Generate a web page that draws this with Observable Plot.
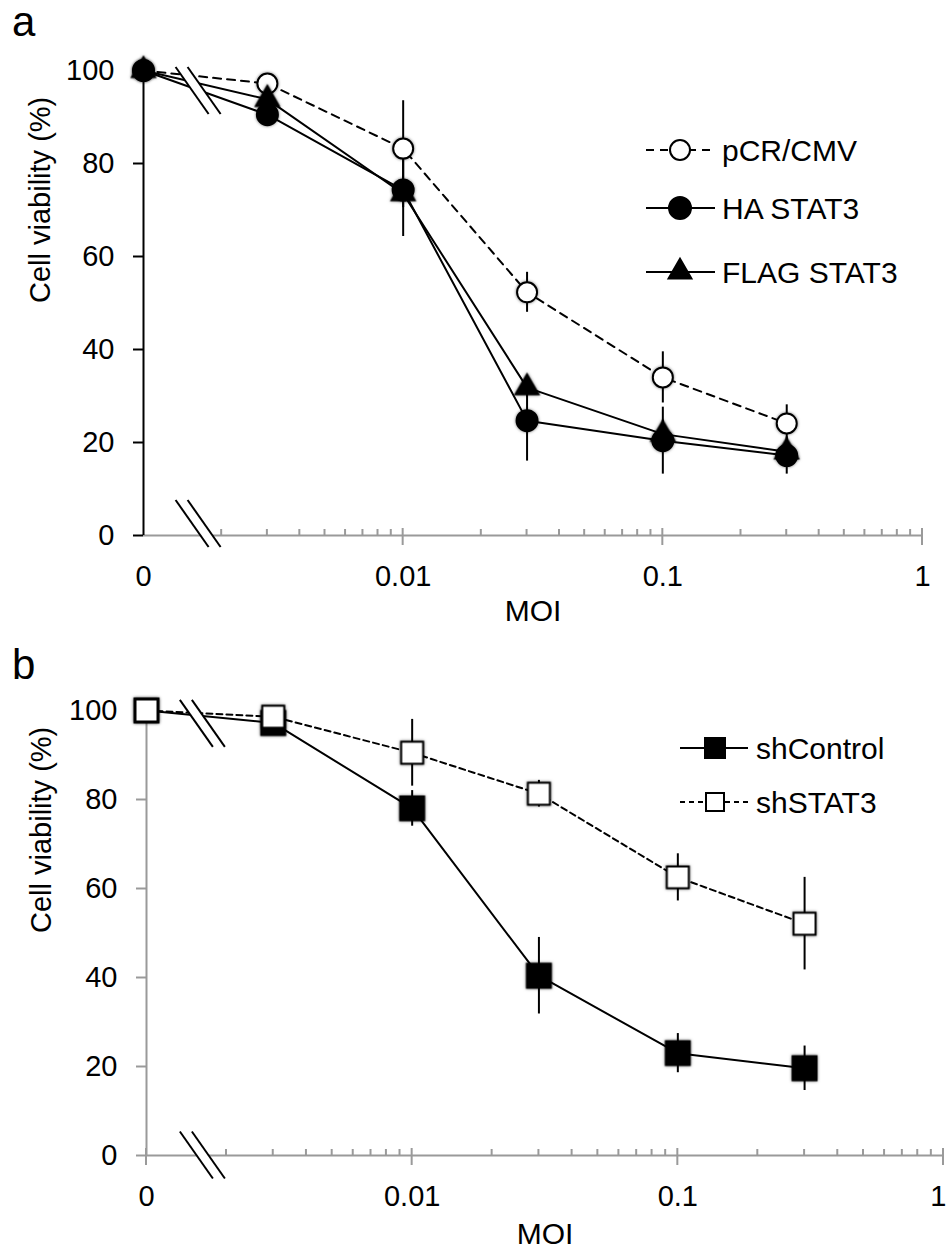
<!DOCTYPE html>
<html><head><meta charset="utf-8">
<script src="https://cdn.jsdelivr.net/npm/d3@7"></script>
<script src="https://cdn.jsdelivr.net/npm/@observablehq/plot@0.6"></script>
<style>
html,body{margin:0;padding:0;background:#fff;overflow:hidden}
#wrap{position:relative;width:947px;height:1258px;font-family:"Liberation Sans",Arial,Helvetica,sans-serif}
.letter{position:absolute;font-size:42px;line-height:42px;color:#000;z-index:5}
.panel{position:absolute;left:0;z-index:1}
</style></head><body>
<div id="wrap">
 <div id="pa" class="panel" style="top:0"></div>
 <div id="pb" class="panel" style="top:640px"></div>
 <div class="letter" style="left:12px;top:1px">a</div>
 <div class="letter" style="left:12px;top:644px">b</div>
</div>
<script>
// ---------- data ----------
const moi = [0, 0.003, 0.01, 0.03, 0.1, 0.3];
const pcrCmv = [100, 97.2, 83.2, 52.3, 34.0, 24.1];
const pcrCmvErr = [0, 1.5, 10.3, 4.3, 5.5, 4.0];
const haStat3 = [100, 90.5, 74.3, 24.7, 20.4, 17.2];
const haStat3Err = [0, 1.5, 10, 8.7, 7.2, 4];
const flagStat3 = [100, 93.8, 73.5, 31.8, 21.8, 18.0];
const flagStat3Err = [0, 1, 3, 2, 3, 2];
const shControl = [100, 97.2, 78.0, 40.4, 23.0, 19.6];
const shControlErr = [0, 1, 4, 8.6, 4.4, 5];
const shStat3 = [100, 98.6, 90.5, 81.3, 62.5, 52.1];
const shStat3Err = [0, 1, 7.5, 3, 5.3, 10.4];
const legendA = ["pCR/CMV", "HA STAT3", "FLAG STAT3"];
const legendB = ["shControl", "shSTAT3"];
const xTicks = [0.001, 0.01, 0.1, 1];
const xTickLabels = ["0", "0.01", "0.1", "1"];
const yTicks = [0, 20, 40, 60, 80, 100];
const minorDecades = [0.001, 0.01, 0.1];
const minorMultipliers = [2, 3, 4, 5, 6, 7, 8, 9];
const xLabel = "MOI";
const yLabel = "Cell viability (%)";

const ZERO_POS = 0.001;   // log-axis position where MOI 0 is drawn
const BREAK_X = 0.00163;  // axis break position
const GRAY = "#9a9a9a";
const FONT = "'Liberation Sans', Arial, Helvetica, sans-serif";

const rows = (vals, errs) => moi.map((m, i) => ({x: m === 0 ? ZERO_POS : m, y: vals[i], e: errs[i]}));
const minorTicks = minorDecades.flatMap(d => minorMultipliers.map(m => m * d)).filter(t => t > BREAK_X);

function tickMark(majors) {
  return (index, {x, y}) => {
    const g = d3.create("svg:g").attr("stroke", GRAY).attr("stroke-width", 2);
    const y0 = y(0);
    for (const t of majors) g.append("line").attr("x1", x(t)).attr("x2", x(t)).attr("y1", y0 - 7).attr("y2", y0 + 10);
    for (const t of minorTicks) g.append("line").attr("x1", x(t)).attr("x2", x(t)).attr("y1", y0 - 6).attr("y2", y0);
    return g.node();
  };
}

function breakMark(breaks) {
  return (index, {x, y}) => {
    const g = d3.create("svg:g");
    const hx = 16.5, hy = 23.5, sep = 6;
    for (const b of breaks) {
      const cx = x(BREAK_X) + (b.dx || 0), cy = y(b.y) + (b.dy || 0);
      g.append("polygon")
        .attr("points", [[cx - hx - sep, cy - hy], [cx - hx + sep, cy - hy], [cx + hx + sep, cy + hy], [cx + hx - sep, cy + hy]].join(" "))
        .attr("fill", "white");
      for (const o of [-sep, sep]) {
        g.append("line").attr("x1", cx - hx + o).attr("y1", cy - hy).attr("x2", cx + hx + o).attr("y2", cy + hy)
          .attr("stroke", "black").attr("stroke-width", 2);
      }
    }
    return g.node();
  };
}

function legendMark(entries, pos) {
  return () => {
    const g = d3.create("svg:g");
    entries.forEach((e, i) => {
      const yy = pos.rows[i];
      g.append("line").attr("x1", pos.x1).attr("x2", pos.x2).attr("y1", yy).attr("y2", yy)
        .attr("stroke", "black").attr("stroke-width", 2).attr("stroke-dasharray", e.dash || null);
      g.append("path").attr("d", d3.symbol(e.symbol, e.size)()).attr("transform", `translate(${pos.xm},${yy})`)
        .attr("fill", e.fill).attr("stroke", "black").attr("stroke-width", 2);
      g.append("text").attr("x", pos.xt).attr("y", yy).attr("dy", "0.35em").attr("font-size", 30)
        .attr("text-anchor", "start").attr("font-family", FONT).attr("fill", "black").text(e.label);
    });
    return g.node();
  };
}

function series(data, {dash, symbol, r, fill}) {
  return {
    err: Plot.ruleX(data.filter(d => d.e > 0), {x: "x", y1: d => d.y - d.e, y2: d => d.y + d.e, stroke: "black", strokeWidth: 2}),
    line: Plot.line(data, {x: "x", y: "y", stroke: "black", strokeWidth: 2, strokeDasharray: dash}),
    dot: Plot.dot(data, {x: "x", y: "y", r, symbol, fill, stroke: "black", strokeWidth: 2})
  };
}

function panel({height, marginLeft, marginRight, marginTop, marginBottom, yAxisColor, majors, breaks, list, legend, yLabelDx, xLabelDy, lastLabelEnd}) {
  const labelTicks = lastLabelEnd ? xTicks.slice(0, -1) : xTicks;
  return Plot.plot({
    width: 947, height, marginLeft, marginRight, marginTop, marginBottom,
    style: {fontFamily: FONT, fontSize: "29px", background: "white", overflow: "visible", color: "black"},
    x: {type: "log", domain: [ZERO_POS, 1]},
    y: {domain: [0, 100]},
    marks: [
      Plot.ruleY([0], {x1: ZERO_POS, x2: 1, stroke: GRAY, strokeWidth: 2}),
      tickMark(majors),
      Plot.axisY({ticks: yTicks, tickSize: 10, tickPadding: 19, stroke: yAxisColor, strokeWidth: 2, fill: "black", fontSize: 29, label: null}),
      Plot.ruleX([ZERO_POS], {y1: 0, y2: 100, stroke: yAxisColor, strokeWidth: 2}),
      Plot.axisX({ticks: labelTicks, tickFormat: d => xTickLabels[xTicks.indexOf(d)], tickSize: 0, tickPadding: 30, fill: "black", fontSize: 29, label: null}),
      lastLabelEnd ? Plot.text([xTicks[xTicks.length - 1]], {x: d => d, y: 0, text: d => xTickLabels[xTicks.indexOf(d)], textAnchor: "end", dx: lastLabelEnd, dy: 30, lineAnchor: "top", fontSize: 29, fill: "black"}) : null,
      ...list.map(s => s.err),
      ...list.map(s => s.line),
      breakMark(breaks),
      ...list.map(s => s.dot),
      legendMark(legend.entries, legend.pos),
      Plot.text([yLabel], {text: d => d, frameAnchor: "left", dx: yLabelDx, rotate: -90, fontSize: 29, fill: "black"}),
      Plot.text([xLabel], {text: d => d, frameAnchor: "bottom", dy: xLabelDy, fontSize: 30, fill: "black"})
    ]
  });
}

const chartA = panel({
  height: 640, marginLeft: 143, marginRight: 25, marginTop: 70, marginBottom: 105,
  yAxisColor: "black", majors: [0.01, 0.1, 1],
  breaks: [{y: 95.6}, {y: 0, dy: -11.5}],
  list: [
    series(rows(pcrCmv, pcrCmvErr), {dash: "8,6", symbol: "circle", r: 10, fill: "white"}),
    series(rows(haStat3, haStat3Err), {symbol: "circle", r: 10.5, fill: "black"}),
    series(rows(flagStat3, flagStat3Err), {symbol: "triangle", r: 8.5, fill: "black"})
  ],
  legend: {
    entries: [
      {label: legendA[0], dash: "8,6", symbol: d3.symbolCircle, size: Math.PI * 100, fill: "white"},
      {label: legendA[1], symbol: d3.symbolCircle, size: Math.PI * 121, fill: "black"},
      {label: legendA[2], symbol: d3.symbolTriangle, size: Math.PI * 72, fill: "black"}
    ],
    pos: {x1: 646, x2: 715, xm: 680, xt: 722, rows: [150, 208, 272]}
  },
  yLabelDx: -103, xLabelDy: 85
});

const chartB = panel({
  height: 618, marginLeft: 146, marginRight: 4, marginTop: 70, marginBottom: 103,
  yAxisColor: GRAY, majors: [0.001, 0.01, 0.1, 1],
  breaks: [{y: 97}, {y: 0}],
  list: [
    series(rows(shControl, shControlErr), {symbol: "square", r: 13.5, fill: "black"}),
    series(rows(shStat3, shStat3Err), {dash: "6,4", symbol: "square", r: 12.4, fill: "white"})
  ],
  legend: {
    entries: [
      {label: legendB[0], symbol: d3.symbolSquare, size: 400, fill: "black"},
      {label: legendB[1], dash: "5,4", symbol: d3.symbolSquare, size: 324, fill: "white"}
    ],
    pos: {x1: 680, x2: 748, xm: 715, xt: 756, rows: [108, 162]}
  },
  yLabelDx: -105, xLabelDy: 88, lastLabelEnd: 3
});

for (const c of [chartA, chartB]) {
  d3.select(c).selectAll('g[aria-label="dot"]').style("filter", "drop-shadow(0px 0px 1.5px rgba(0,0,0,0.55))");
}
document.getElementById("pa").appendChild(chartA);
document.getElementById("pb").appendChild(chartB);
</script>
</body></html>
